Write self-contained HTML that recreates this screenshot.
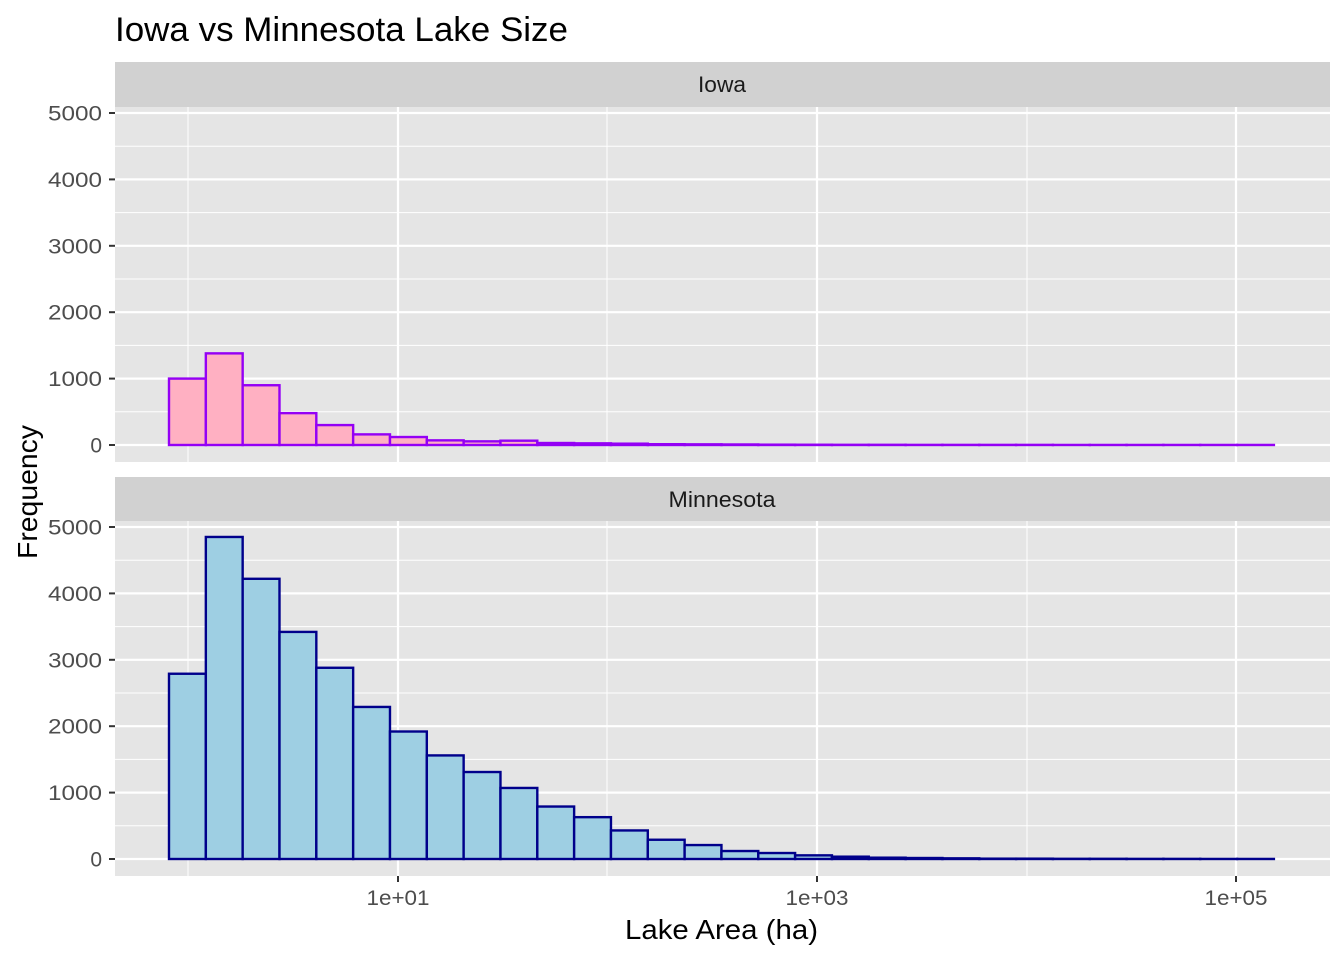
<!DOCTYPE html>
<html><head><style>body{margin:0;background:#fff}svg{display:block}text{font-family:"Liberation Sans",Arial,sans-serif}</style></head>
<body>
<svg id="s" width="1344" height="960" xmlns="http://www.w3.org/2000/svg">
<text x="115" y="41" font-size="34" textLength="453" lengthAdjust="spacingAndGlyphs" fill="#000">Iowa vs Minnesota Lake Size</text>
<g id="g"></g>
<text x="625" y="939" font-size="28" textLength="193" lengthAdjust="spacingAndGlyphs" fill="#000">Lake Area (ha)</text>
<text transform="translate(37,559) rotate(-90)" font-size="28" textLength="134" lengthAdjust="spacingAndGlyphs" fill="#000">Frequency</text>
</svg>
<script>
const g=document.getElementById('g');let h='';
function panel(top,bot,strip,label,zero,vals,fill,stroke,lw){
  h+=`<rect x="115" y="${strip}" width="1215" height="${top-strip}" fill="#d1d1d1"/>`;
  h+=`<text x="722" y="${strip+30}" font-size="22" textLength="${lw}" lengthAdjust="spacingAndGlyphs" text-anchor="middle" fill="#1a1a1a">${label}</text>`;
  h+=`<rect x="115" y="${top}" width="1215" height="${bot-top}" fill="#e5e5e5"/>`;
  const k=66.4/1000;
  for(let i=0;i<10;i++){const y=zero-i*500*k;if(i%2)h+=`<line x1="115" x2="1330" y1="${y}" y2="${y}" stroke="#fff" stroke-width="1"/>`;}
  for(const x of [188,607,1027])h+=`<line x1="${x}" x2="${x}" y1="${top}" y2="${bot}" stroke="#fff" stroke-width="1"/>`;
  for(let i=0;i<=5;i++){const y=zero-i*1000*k;h+=`<line x1="115" x2="1330" y1="${y}" y2="${y}" stroke="#fff" stroke-width="2.2"/>`;
    h+=`<line x1="109" x2="115" y1="${y}" y2="${y}" stroke="#333" stroke-width="2"/>`;
    const s=String(i*1000);
    h+=`<text x="102" y="${y+7.5}" font-size="21" text-anchor="end" ${s.length>1?`textLength="${s.length*13.5}" lengthAdjust="spacingAndGlyphs"`:''} fill="#4d4d4d">${s}</text>`;}
  for(const x of [398,817,1236])h+=`<line x1="${x}" x2="${x}" y1="${top}" y2="${bot}" stroke="#fff" stroke-width="2.2"/>`;
  const w=36.83;
  vals.forEach((v,i)=>{const hh=Math.max(v*k,0);h+=`<rect x="${169+i*w}" y="${zero-hh}" width="${w}" height="${hh}" fill="${fill}" stroke="${stroke}" stroke-width="2.4"/>`;});
}
panel(107,462,62,'Iowa',445,[1000,1380,900,480,300,160,120,70,55,65,30,25,20,12,10,8,5,4,3,3,2,2,2,2,1,1,1,1,1,1],'#ffb0c2','#9400f5',48);
panel(521,876,477,'Minnesota',859,[2790,4850,4220,3420,2880,2290,1920,1560,1310,1070,790,630,430,290,210,120,90,55,35,20,15,10,5,5,3,3,2,2,1,1],'#9ecfe3','#00008b',107);
for(const [x,t] of [[398,'1e+01'],[817,'1e+03'],[1236,'1e+05']]){h+=`<line x1="${x}" x2="${x}" y1="876" y2="882" stroke="#333" stroke-width="2"/>`;h+=`<text x="${x}" y="905" font-size="21" textLength="63" lengthAdjust="spacingAndGlyphs" text-anchor="middle" fill="#4d4d4d">${t}</text>`;}
g.innerHTML=h;
</script>
</body></html>
